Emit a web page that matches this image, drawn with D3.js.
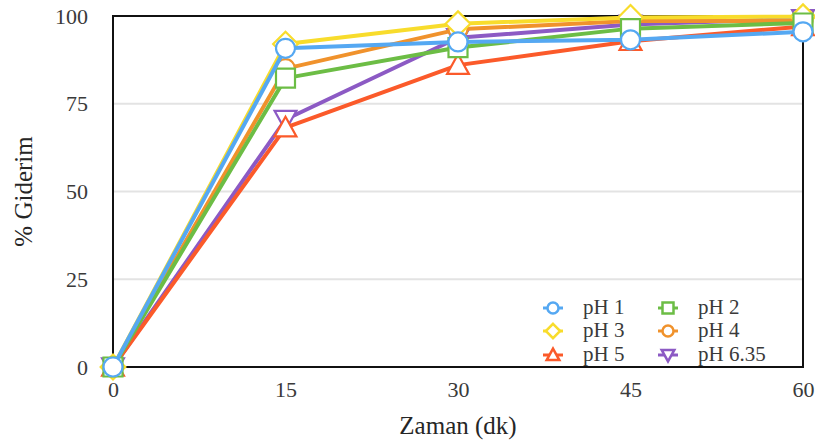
<!DOCTYPE html>
<html>
<head>
<meta charset="utf-8">
<script src="https://cdn.jsdelivr.net/npm/d3@7"></script>
<style>
  html, body { margin: 0; padding: 0; background: #fff; }
  svg { display: block; }
</style>
</head>
<body>
<svg id="chart" width="815" height="445"></svg>
<script>
// Time points (minutes)
const times = [0, 15, 30, 45, 60];
const xTicks = [0, 15, 30, 45, 60];
const yTicks = [0, 25, 50, 75, 100];

// Removal (%) for each pH
const pH1   = [0, 90.8, 92.6, 93.2, 95.5];
const pH2   = [0, 82.3, 91.0, 96.4, 98.0];
const pH3   = [0, 92.0, 97.8, 99.6, 99.8];
const pH4   = [0, 85.0, 96.2, 98.6, 98.6];
const pH5   = [0, 68.2, 86.0, 92.8, 97.0];
const pH635 = [0, 70.5, 93.8, 97.6, 99.2];

const seriesNames = ["pH 1", "pH 2", "pH 3", "pH 4", "pH 5", "pH 6.35"];
const seriesValues = [pH1, pH2, pH3, pH4, pH5, pH635];
const seriesColors = ["#55a8f2", "#6cbd45", "#f8dc2c", "#f0922c", "#fb5a2a", "#8c5ac4"];
const seriesSymbols = ["circle", "square", "diamond", "circle", "triangle", "triangleDown"];

const serif = "'Liberation Serif', 'Times New Roman', serif";
const svg = d3.select("#chart");
const margin = { left: 113, top: 16, right: 12, bottom: 78 };
const W = 815, H = 445;

const x = d3.scaleLinear().domain([0, 60]).range([margin.left, W - margin.right]);
const y = d3.scaleLinear().domain([0, 100]).range([H - margin.bottom, margin.top]);

// Horizontal gridlines
svg.append("g")
  .selectAll("line")
  .data(yTicks.filter(t => t > 0 && t < 100))
  .join("line")
  .attr("x1", x(0)).attr("x2", x(60))
  .attr("y1", d => y(d)).attr("y2", d => y(d))
  .attr("stroke", "#e3e3e3").attr("stroke-width", 2);

// Plot frame
svg.append("rect")
  .attr("x", x(0)).attr("y", y(100))
  .attr("width", x(60) - x(0)).attr("height", y(0) - y(100))
  .attr("fill", "none").attr("stroke", "#111").attr("stroke-width", 2);

// Axes (labels only; frame drawn above)
const xAxis = svg.append("g")
  .attr("transform", `translate(0,${y(0)})`)
  .call(d3.axisBottom(x).tickValues(xTicks).tickSize(0).tickPadding(14));
const yAxis = svg.append("g")
  .attr("transform", `translate(${x(0)},0)`)
  .call(d3.axisLeft(y).tickValues(yTicks).tickSize(0).tickPadding(25));
[xAxis, yAxis].forEach(g => {
  g.attr("font-family", serif).attr("font-size", 22);
  g.select(".domain").remove();
  g.selectAll("text").attr("fill", "#3a3a3a");
});

// Axis titles
svg.append("text")
  .attr("x", (x(0) + x(60)) / 2).attr("y", 434)
  .attr("text-anchor", "middle")
  .attr("font-family", serif).attr("font-size", 25)
  .attr("fill", "#262626")
  .text("Zaman (dk)");
svg.append("text")
  .attr("transform", `translate(32,${(y(0) + y(100)) / 2}) rotate(-90)`)
  .attr("text-anchor", "middle")
  .attr("font-family", serif).attr("font-size", 25)
  .attr("fill", "#262626")
  .text("% Giderim");

function symbolPath(kind, s) {
  const h = s / 2;
  switch (kind) {
    case "circle": return d3.symbol(d3.symbolCircle, Math.PI * h * h)();
    case "square": return `M${-h},${-h}H${h}V${h}H${-h}Z`;
    case "diamond": { const d = h * 1.3; return `M0,${-d}L${d},0L0,${d}L${-d},0Z`; }
    case "triangle": { const t = h * 1.15; return `M0,${-t}L${t},${t * 0.8}L${-t},${t * 0.8}Z`; }
    case "triangleDown": { const t = h * 1.15; return `M0,${t}L${t},${-t * 0.8}L${-t},${-t * 0.8}Z`; }
  }
}

const line = d3.line().x((d, i) => x(times[i])).y(d => y(d));

// Series drawn last-to-first so pH 1 sits on top
const order = d3.range(seriesNames.length).reverse();
const plot = svg.append("g");
order.forEach(k => {
  const g = plot.append("g");
  g.append("path")
    .datum(seriesValues[k])
    .attr("d", line)
    .attr("fill", "none")
    .attr("stroke", seriesColors[k])
    .attr("stroke-width", 4)
    .attr("stroke-linejoin", "round");
  g.selectAll("path.mk")
    .data(seriesValues[k])
    .join("path")
    .attr("class", "mk")
    .attr("transform", (d, i) => `translate(${x(times[i])},${y(d)})`)
    .attr("d", symbolPath(seriesSymbols[k], 19))
    .attr("fill", "#fff")
    .attr("stroke", seriesColors[k])
    .attr("stroke-width", 2.2);
});

// Legend (two columns)
const legend = svg.append("g");
const legX = [553, 668], legY = [308, 331, 355];
seriesNames.forEach((name, k) => {
  const cx = legX[k % 2], cy = legY[Math.floor(k / 2)];
  legend.append("line")
    .attr("x1", cx - 10).attr("x2", cx + 10)
    .attr("y1", cy).attr("y2", cy)
    .attr("stroke", seriesColors[k]).attr("stroke-width", 3);
  legend.append("path")
    .attr("transform", `translate(${cx},${cy})`)
    .attr("d", symbolPath(seriesSymbols[k], 11))
    .attr("fill", "#fff")
    .attr("stroke", seriesColors[k])
    .attr("stroke-width", 2.5);
  legend.append("text")
    .attr("x", cx + 30).attr("y", cy + 6)
    .attr("font-family", serif).attr("font-size", 21)
    .attr("fill", "#3a3a3a")
    .text(name);
});
</script>
</body>
</html>
